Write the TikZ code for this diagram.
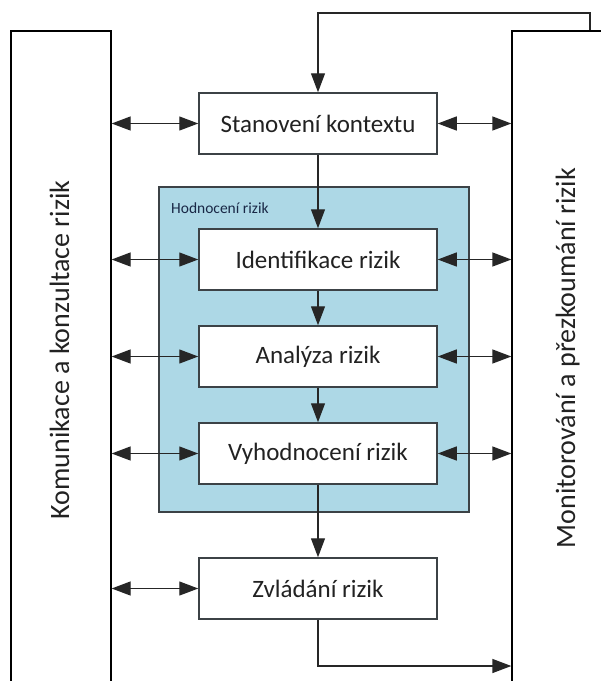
\documentclass[tikz,border=0pt]{standalone}
\usepackage{fontspec}
\setmainfont{Carlito}
\usetikzlibrary{arrows.meta}
\definecolor{evalblue}{RGB}{173,216,230}
\definecolor{framegray}{RGB}{60,66,70}
\definecolor{inkgray}{RGB}{34,34,34}
\definecolor{navy}{RGB}{25,40,70}
\tikzset{
  stepbox/.style={draw=framegray, line width=1.5pt, fill=white, rectangle,
    minimum width=238pt, minimum height=61pt, inner sep=0pt,
    text=inkgray, font=\fontsize{25}{28}\selectfont},
  panel/.style={draw=black, line width=1.3pt, fill=white, rectangle, inner sep=0pt},
  sidelabel/.style={rotate=90, anchor=base, text=inkgray,
    font=\fontsize{28}{32}\selectfont, inner sep=0pt},
  link/.style={draw=black!85, line width=1.3pt},
  head/.tip={Triangle[length=19pt,width=14pt]},
  arr/.style={link, -head},
  dbl/.style={link, head-head}
}
\begin{document}
\begin{tikzpicture}[x=1pt,y=-1pt]
  \clip (0,0) rectangle (601,681);
  \fill[white] (0,0) rectangle (601,681);

  % side panels, open towards the bottom edge
  \node[panel, minimum width=100pt, minimum height=700pt] (lpanel) at (61,381) {};
  \node[panel, minimum width=138pt, minimum height=700pt] (rpanel) at (581,381) {};
  \node[sidelabel] (ltext) at (69,350) {Komunikace a konzultace rizik};
  \node[sidelabel] (rtext) at (575,358) {Monitorování a přezkoumání rizik};

  % risk assessment group
  \node[draw=framegray, line width=1.5pt, fill=evalblue, rectangle, inner sep=0pt,
        minimum width=310pt, minimum height=325pt] (assess) at (314,349.5) {};
  \node[anchor=base west, inner sep=0pt, text=navy,
        font=\fontsize{15.5}{18}\selectfont] (assesslbl) at (171,213) {Hodnocení rizik};

  % process steps
  \node[stepbox] (stan) at (318,123.5) {Stanovení kontextu};
  \node[stepbox] (idf)  at (318,259.5) {Identifikace rizik};
  \node[stepbox] (ana)  at (318,356.5) {Analýza rizik};
  \node[stepbox] (vyh)  at (318,453.5) {Vyhodnocení rizik};
  \node[stepbox] (zvl)  at (318,588.5) {Zvládání rizik};

  % main flow
  \draw[arr] (stan.south) -- (idf.north);
  \draw[arr] (idf.south) -- (ana.north);
  \draw[arr] (ana.south) -- (vyh.north);
  \draw[arr] (vyh.south) -- (zvl.north);

  % feedback from monitoring into context
  \coordinate (fb) at (590,13);
  \draw[arr] (rpanel.north -| fb) -- (fb) -| (stan.north);

  % treatment result into monitoring
  \coordinate (ret) at (318,666);
  \draw[arr] (zvl.south) |- (rpanel.west |- ret);

  % communication links on both sides
  \foreach \s in {stan,idf,ana,vyh}{
    \draw[dbl] (lpanel.east |- \s) -- (\s.west);
    \draw[dbl] (\s.east) -- (rpanel.west |- \s);
  }
  \draw[dbl] (lpanel.east |- zvl) -- (zvl.west);
\end{tikzpicture}
\end{document}
